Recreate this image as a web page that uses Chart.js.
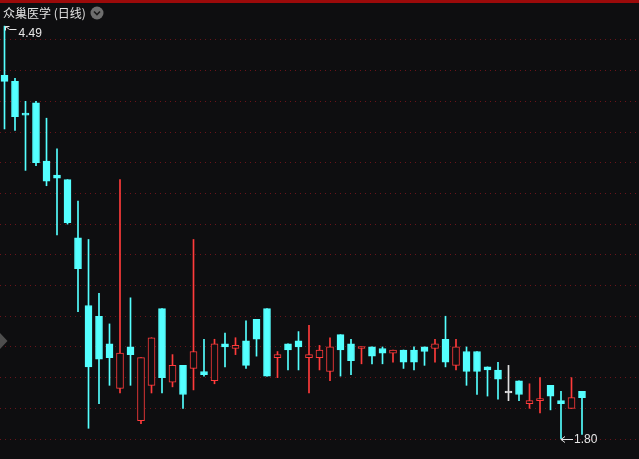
<!DOCTYPE html>
<html>
<head>
<meta charset="utf-8">
<script src="https://cdn.jsdelivr.net/npm/chart.js@4.4.0/dist/chart.umd.min.js"></script>
<style>
  html, body { margin: 0; padding: 0; background: #0e0e10; overflow: hidden; }
  #wrap { position: relative; width: 639px; height: 459px; }
  #title {
    position: absolute; left: 3px; top: 4px;
    color: #e2e2e2; font: 12px "Noto Sans CJK SC", sans-serif; line-height: 18px;
    white-space: nowrap;
  }
</style>
</head>
<body>
<div id="wrap">
  <canvas id="kline" width="639" height="459"></canvas>
  <div id="title">众巢医学 (日线)</div>
</div>
<script>
// daily candles
const opens  = [4.17,4.13,3.92,3.99,3.61,3.52,3.49,3.11,2.67,2.60,2.42,2.13,2.40,1.92,2.15,2.65,2.17,2.28,2.26,2.24,2.18,2.42,2.39,2.44,2.58,2.65,2.33,2.42,2.44,2.33,2.33,2.24,2.48,2.42,2.39,2.40,2.39,2.36,2.38,2.38,2.40,2.39,2.45,2.28,2.37,2.37,2.27,2.25,2.10,2.18,2.03,2.05,2.15,2.05,2.00,2.11];
const closes = [4.13,3.90,3.91,3.60,3.48,3.50,3.21,2.91,2.27,2.32,2.33,2.36,2.35,2.33,2.46,2.20,2.28,2.09,2.37,2.22,2.42,2.40,2.41,2.28,2.45,2.21,2.35,2.38,2.40,2.35,2.38,2.40,2.38,2.31,2.40,2.34,2.36,2.38,2.30,2.30,2.37,2.42,2.30,2.40,2.24,2.24,2.25,2.19,2.10,2.09,2.05,2.06,2.08,2.03,2.07,2.07];
const highs  = [4.49,4.15,4.00,4.00,3.89,3.69,3.49,3.35,3.10,2.75,2.55,3.49,2.72,2.33,2.46,2.65,2.35,2.28,3.10,2.45,2.45,2.49,2.46,2.57,2.58,2.65,2.37,2.42,2.50,2.54,2.41,2.46,2.48,2.45,2.40,2.40,2.40,2.38,2.38,2.40,2.40,2.45,2.60,2.45,2.40,2.37,2.27,2.30,2.28,2.18,2.16,2.20,2.15,2.11,2.20,2.11];
const lows   = [3.82,3.81,3.55,3.58,3.45,3.13,3.20,2.63,1.87,2.03,2.15,2.10,2.15,1.90,2.10,2.10,2.14,2.00,2.12,2.21,2.16,2.27,2.35,2.26,2.34,2.21,2.20,2.25,2.25,2.10,2.25,2.18,2.21,2.22,2.29,2.29,2.29,2.30,2.26,2.25,2.28,2.30,2.27,2.25,2.15,2.09,2.08,2.06,2.05,2.05,2.00,1.97,1.99,1.80,2.00,1.83];

const UP = '#ff3b3b', DOWN = '#54ffff', FLAT = '#e0e0e0', BG = '#0e0e10';

const colorOf = i => closes[i] > opens[i] ? UP : (closes[i] < opens[i] ? DOWN : FLAT);

const wickData = highs.map((h, i) => ({ x: i, y: [lows[i], h] }));
const bodyData = opens.map((o, i) => ({ x: i, y: [o, closes[i]] }));

// extra drawing: top bar, icon, side arrow, high/low marks
const decor = {
  id: 'decor',
  afterDraw(chart) {
    const ctx = chart.ctx;
    const xs = chart.scales.x, ys = chart.scales.y;
    ctx.save();
    ctx.fillStyle = '#9b0a0a';
    ctx.fillRect(0, 0, chart.width, 3);

    // dropdown icon next to title
    ctx.fillStyle = '#6e6e6e';
    ctx.beginPath(); ctx.arc(97, 13, 6.5, 0, Math.PI * 2); ctx.fill();
    ctx.strokeStyle = '#1c1c1c'; ctx.lineWidth = 1.6;
    ctx.beginPath(); ctx.moveTo(94, 11.5); ctx.lineTo(97, 14.5); ctx.lineTo(100, 11.5); ctx.stroke();

    // little grey arrow on the left edge
    ctx.fillStyle = '#4e4e4e';
    ctx.beginPath(); ctx.moveTo(0, 333); ctx.lineTo(7.5, 341); ctx.lineTo(0, 349); ctx.closePath(); ctx.fill();

    ctx.strokeStyle = '#e6e6e6'; ctx.fillStyle = '#e6e6e6'; ctx.lineWidth = 1;
    ctx.font = '12px "Liberation Sans", Arial, sans-serif';
    ctx.textBaseline = 'middle';

    // highest high
    const hi = highs.indexOf(Math.max(...highs));
    const hx = Math.round(xs.getPixelForValue(hi)) + 0.5, hy = Math.round(ys.getPixelForValue(highs[hi])) + 0.5;
    ctx.beginPath();
    ctx.moveTo(hx, hy); ctx.lineTo(hx + 4, hy + 3); ctx.lineTo(hx + 11, hy + 3);
    ctx.moveTo(hx, hy); ctx.lineTo(hx + 4, hy);
    ctx.moveTo(hx, hy); ctx.lineTo(hx, hy + 4);
    ctx.stroke();
    ctx.fillText(highs[hi].toFixed(2), hx + 13, hy + 7);

    // lowest low
    const lo = lows.indexOf(Math.min(...lows));
    const lx = Math.round(xs.getPixelForValue(lo)), ly = Math.round(ys.getPixelForValue(lows[lo])) + 0.5;
    ctx.beginPath();
    ctx.moveTo(lx, ly); ctx.lineTo(lx + 12, ly);
    ctx.moveTo(lx, ly); ctx.lineTo(lx + 4, ly - 3);
    ctx.moveTo(lx, ly); ctx.lineTo(lx + 4, ly + 3);
    ctx.stroke();
    ctx.fillText(lows[lo].toFixed(2), lx + 13, ly + 0.5);
    ctx.restore();
  }
};

new Chart(document.getElementById('kline'), {
  type: 'bar',
  data: {
    datasets: [
      {
        label: 'wick',
        data: wickData,
        grouped: false,
        order: 2,
        barThickness: 1,
        borderWidth: 0,
        backgroundColor: ctx => colorOf(ctx.dataIndex)
      },
      {
        label: 'body',
        data: bodyData,
        grouped: false,
        order: 1,
        barThickness: 7,
        minBarLength: 2,
        borderWidth: 1,
        borderSkipped: false,
        borderColor: ctx => colorOf(ctx.dataIndex),
        backgroundColor: ctx => {
          const c = colorOf(ctx.dataIndex);
          return c === UP ? BG : c;
        }
      }
    ]
  },
  options: {
    responsive: false,
    animation: false,
    devicePixelRatio: 1,
    layout: { padding: 0 },
    plugins: { legend: { display: false }, tooltip: { enabled: false } },
    scales: {
      x: {
        type: 'linear',
        display: false,
        offset: false,
        min: -0.4286,
        max: 60.4286,
        grid: { offset: false }
      },
      y: {
        min: 1.67,
        max: 4.66,
        ticks: { display: false, stepSize: 0.2 },
        border: { display: false, dash: [1, 4] },
        grid: {
          drawTicks: false,
          lineWidth: 1,
          color: ctx => {
            const v = ctx.tick.value;
            const onStep = Math.abs(v * 5 - Math.round(v * 5)) < 1e-6;
            return onStep && v > 1.7 && v < 4.5 ? '#6a141a' : 'rgba(0,0,0,0)';
          }
        },
        afterFit: s => { s.width = 0; }
      }
    }
  },
  plugins: [decor]
});
</script>
</body>
</html>
